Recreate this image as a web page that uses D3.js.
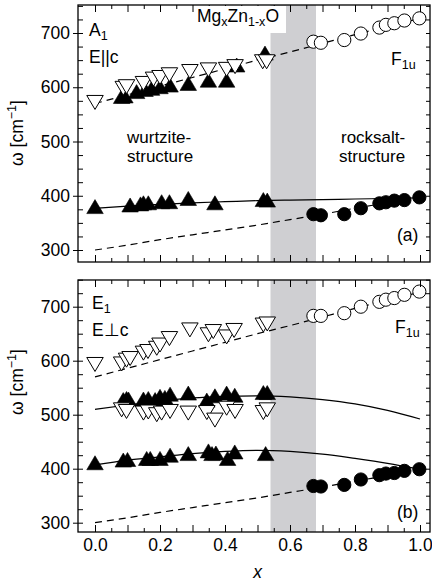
<!DOCTYPE html>
<html>
<head>
<meta charset="utf-8">
<script src="https://cdn.jsdelivr.net/npm/d3@7"></script>
<style>
  html, body { margin: 0; padding: 0; background: #fff; }
  svg { display: block; font-family: "Liberation Sans", Arial, sans-serif; }
</style>
</head>
<body>
<svg id="chart" width="432" height="584"></svg>
<script>
// ---- composition x values ----
const circX = [0.672, 0.695, 0.767, 0.818, 0.875, 0.895, 0.921, 0.952, 0.998];
const curveX = [0, 0.1, 0.2, 0.3, 0.4, 0.5, 0.6, 0.7, 0.8, 0.9, 1.0];
const bandRange = [0.54, 0.68];
const xTickLabels = ["0.0", "0.2", "0.4", "0.6", "0.8", "1.0"];
const yTickValues = [300, 400, 500, 600, 700];

// ---- panel (a): A1, E || c ----
const aOpenTriX = [0.0, 0.087, 0.097, 0.149, 0.18, 0.2, 0.229, 0.292, 0.349, 0.405, 0.431, 0.516, 0.528];
const aOpenTriV = [572, 598, 601, 607, 615, 618, 623, 629, 632, 633, 638, 647, 647];
const aHighTriX = [0.082, 0.092, 0.128, 0.154, 0.174, 0.2, 0.231, 0.287, 0.349, 0.405, 0.436, 0.523];
const aHighTriV = [583, 584, 592, 596, 598, 601, 604, 607, 613, 613, 641, 663];
const aLowTriX = [0.0, 0.108, 0.14, 0.149, 0.164, 0.205, 0.229, 0.287, 0.369, 0.518, 0.53];
const aLowTriV = [380, 383, 385, 387, 387, 389, 389, 395, 387, 393, 392];
const aOpenCircV = [684, 682, 687, 699, 710, 715, 718, 723, 727];
const aFilledCircV = [366, 364, 366, 377, 386, 388, 391, 392, 397];
const aSolid = [377, 381, 384, 387, 389, 391, 392, 393, 394, 395, 396];

// ---- panel (b): E1, E ⊥ c ----
const bOpenHighX = [0.0, 0.082, 0.097, 0.108, 0.149, 0.163, 0.19, 0.2, 0.229, 0.292, 0.349, 0.364, 0.405, 0.428, 0.518, 0.53];
const bOpenHighV = [593, 594, 601, 604, 614, 617, 623, 629, 641, 657, 648, 654, 644, 656, 666, 668];
const bMidTriX = [0.087, 0.097, 0.103, 0.149, 0.164, 0.185, 0.2, 0.215, 0.231, 0.287, 0.344, 0.369, 0.405, 0.43, 0.518, 0.53];
const bMidTriV = [528, 530, 529, 529, 530, 528, 534, 532, 538, 540, 527, 535, 540, 536, 541, 541];
const bOpenLowX = [0.082, 0.097, 0.149, 0.164, 0.19, 0.205, 0.231, 0.287, 0.344, 0.369, 0.405, 0.431, 0.518, 0.53];
const bOpenLowV = [509, 506, 503, 505, 500, 503, 506, 503, 504, 490, 512, 506, 504, 509];
const bLowTriX = [0.0, 0.087, 0.1, 0.159, 0.17, 0.2, 0.231, 0.287, 0.349, 0.36, 0.372, 0.408, 0.43, 0.525];
const bLowTriV = [411, 416, 417, 419, 419, 419, 425, 428, 433, 428, 429, 419, 431, 428];
const bOpenCircV = [683, 683, 688, 700, 709, 713, 716, 722, 728];
const bFilledCircV = [368, 367, 370, 380, 388, 391, 392, 396, 399];
const bSolidMid = [510, 518, 525, 531, 534, 535, 533, 528, 520, 508, 492];
const bSolidLow = [407, 416, 422, 428, 432, 434, 432, 427, 419, 410, 399];

// ---- shared model lines ----
const lowDashed = [300, 309, 319, 328, 337, 346, 356, 366, 377, 387, 398];
const upDashed = [570, 586, 602, 618, 634, 650, 665, 681, 697, 712, 727];

// ---- layout ----
const frameL = 78, frameR = 430;
const panels = [
  { top: 5,   bottom: 262, y700: 33,    y300: 250 },
  { top: 280, bottom: 532, y700: 306.7, y300: 522.7 }
];
const x = d3.scaleLinear().domain([0, 1]).range([95, 420]);

const svg = d3.select("#chart");
const FS = 17.5;
const SUB = 12.5;

function triPath(up, w, h) {
  return up
    ? `M0,${-h / 2}L${w / 2},${h / 2}L${-w / 2},${h / 2}Z`
    : `M0,${h / 2}L${w / 2},${-h / 2}L${-w / 2},${-h / 2}Z`;
}

function drawPanel(p, cfg) {
  const y = d3.scaleLinear().domain([300, 700]).range([p.y300, p.y700]);
  const g = svg.append("g");
  const clipId = "clip" + cfg.id;
  svg.append("clipPath").attr("id", clipId).append("rect")
    .attr("x", frameL).attr("y", p.top).attr("width", frameR - frameL).attr("height", p.bottom - p.top);

  // two-phase region
  g.append("rect")
    .attr("x", x(bandRange[0])).attr("y", p.top)
    .attr("width", x(bandRange[1]) - x(bandRange[0])).attr("height", p.bottom - p.top)
    .attr("fill", "#cfcfd2");

  const plot = g.append("g").attr("clip-path", `url(#${clipId})`);
  const line = d3.line().x((d, i) => x(curveX[i])).y(d => y(d)).curve(d3.curveMonotoneX);

  cfg.solid.forEach(s => plot.append("path").attr("d", line(s))
    .attr("fill", "none").attr("stroke", "#000").attr("stroke-width", 1.2));
  cfg.dashed.forEach(s => plot.append("path").attr("d", line(s))
    .attr("fill", "none").attr("stroke", "#000").attr("stroke-width", 1.2)
    .attr("stroke-dasharray", "7,5"));

  function tris(xs, vs, up, filled) {
    plot.append("g").selectAll("path").data(xs).join("path")
      .attr("transform", (d, i) => `translate(${x(d)},${y(vs[i])})`)
      .attr("d", triPath(up, 16.5, 14))
      .attr("fill", filled ? "#000" : "#fff")
      .attr("stroke", "#000").attr("stroke-width", filled ? 0.6 : 1);
  }
  function circs(vs, filled) {
    plot.append("g").selectAll("circle").data(circX).join("circle")
      .attr("cx", d => x(d)).attr("cy", (d, i) => y(vs[i])).attr("r", 6.6)
      .attr("fill", filled ? "#000" : "#fff")
      .attr("stroke", "#000").attr("stroke-width", 1);
  }
  cfg.filledTris.forEach(t => tris(t[0], t[1], true, true));
  cfg.openTris.forEach(t => tris(t[0], t[1], false, false));
  circs(cfg.openCirc, false);
  circs(cfg.filledCirc, true);

  // axes: minor ticks inside, majors outside with labels
  const left = g.append("g").attr("transform", `translate(${frameL},0)`);
  left.call(d3.axisLeft(y).tickValues(d3.range(300, 751, 25)).tickSize(-5).tickFormat(""));
  const leftMaj = g.append("g").attr("transform", `translate(${frameL},0)`);
  leftMaj.call(d3.axisLeft(y).tickValues(yTickValues).tickSize(5).tickPadding(3).tickFormat(d3.format("d")));
  const right = g.append("g").attr("transform", `translate(${frameR},0)`);
  right.call(d3.axisRight(y).tickValues(d3.range(300, 751, 25)).tickSize(-4).tickFormat(""));

  const xMinor = d3.range(0, 1.0001, 0.05).filter(v => Math.round(v * 100) % 10 !== 0);
  const xMajor = d3.range(0, 1.0001, 0.1);
  const bot = g.append("g").attr("transform", `translate(0,${p.bottom})`);
  bot.call(d3.axisBottom(x).tickValues(xMajor).tickSize(-7).tickFormat(""));
  const botMin = g.append("g").attr("transform", `translate(0,${p.bottom})`);
  botMin.call(d3.axisBottom(x).tickValues(xMinor).tickSize(-4).tickFormat(""));
  const top = g.append("g").attr("transform", `translate(0,${p.top})`);
  top.call(d3.axisTop(x).tickValues(xMajor).tickSize(-7).tickFormat(""));
  const topMin = g.append("g").attr("transform", `translate(0,${p.top})`);
  topMin.call(d3.axisTop(x).tickValues(xMinor).tickSize(-4).tickFormat(""));

  g.selectAll(".domain").remove();
  g.selectAll(".tick line").attr("stroke", "#000").attr("stroke-width", 1);
  g.selectAll(".tick text").attr("font-size", FS).attr("fill", "#000")
    .attr("font-family", "Liberation Sans, Arial, sans-serif");

  if (cfg.xLabels) {
    const xl = g.append("g").attr("transform", `translate(0,${p.bottom})`);
    xl.call(d3.axisBottom(x).tickValues(d3.range(0, 1.0001, 0.2)).tickSize(0).tickPadding(7)
      .tickFormat((d, i) => xTickLabels[i]));
    xl.select(".domain").remove();
    xl.selectAll("text").attr("font-size", FS).attr("fill", "#000")
      .attr("font-family", "Liberation Sans, Arial, sans-serif");
  }

  // frame
  g.append("rect").attr("x", frameL).attr("y", p.top)
    .attr("width", frameR - frameL).attr("height", p.bottom - p.top)
    .attr("fill", "none").attr("stroke", "#000").attr("stroke-width", 1.3);

  // y title
  const yt = g.append("text")
    .attr("transform", `translate(23,${cfg.yTitleY}) rotate(-90)`)
    .attr("text-anchor", "middle").attr("font-size", FS);
  yt.append("tspan").text("ω [cm");
  yt.append("tspan").attr("dy", -7).attr("font-size", SUB).text("−1");
  yt.append("tspan").attr("dy", 7).text("]");

  return g;
}

function subText(g, px, py, parts) {
  const t = g.append("text").attr("x", px).attr("y", py).attr("font-size", FS);
  let shift = 0;
  parts.forEach(([s, sub]) => {
    const dy = sub ? 4 - shift : -shift;
    shift = sub ? 4 : 0;
    t.append("tspan").attr("dy", dy).attr("font-size", sub ? SUB : FS).text(s);
  });
  return t;
}

// two-line structure label
const LBL = 17;
function twoLines(g, px, py, l1, l2, px2) {
  g.append("text").attr("x", px).attr("y", py).attr("font-size", LBL).text(l1);
  g.append("text").attr("x", px2 === undefined ? px : px2).attr("y", py + 19.2)
    .attr("font-size", LBL).text(l2);
}

const gA = drawPanel(panels[0], {
  id: "a",
  solid: [aSolid],
  dashed: [lowDashed, upDashed],
  filledTris: [[aHighTriX, aHighTriV], [aLowTriX, aLowTriV]],
  openTris: [[aOpenTriX, aOpenTriV]],
  openCirc: aOpenCircV,
  filledCirc: aFilledCircV,
  yTitleY: 133,
  xLabels: false
});

const gB = drawPanel(panels[1], {
  id: "b",
  solid: [bSolidMid, bSolidLow],
  dashed: [lowDashed, upDashed],
  filledTris: [[bMidTriX, bMidTriV], [bLowTriX, bLowTriV]],
  openTris: [[bOpenHighX, bOpenHighV], [bOpenLowX, bOpenLowV]],
  openCirc: bOpenCircV,
  filledCirc: bFilledCircV,
  yTitleY: 382,
  xLabels: true
});

// panel (a) annotations
gA.append("rect").attr("x", 195).attr("y", 6).attr("width", 91).attr("height", 27).attr("fill", "#fff");
subText(gA, 197, 22, [["Mg"], ["x", 1], ["Zn"], ["1-x", 1], ["O"]]);
subText(gA, 89, 36, [["A"], ["1", 1]]);
gA.append("text").attr("x", 89).attr("y", 63).attr("font-size", FS).text("E||c");
subText(gA, 391, 65, [["F"], ["1u", 1]]);
twoLines(gA, 127, 142.5, "wurtzite-", "structure");
twoLines(gA, 341, 142.5, "rocksalt-", "structure", 339);
gA.append("text").attr("x", 397).attr("y", 241).attr("font-size", FS).text("(a)");

// panel (b) annotations
subText(gB, 92, 309, [["E"], ["1", 1]]);
gB.append("text").attr("x", 92).attr("y", 336).attr("font-size", FS).text("E⊥c");
subText(gB, 395, 333, [["F"], ["1u", 1]]);
gB.append("text").attr("x", 397).attr("y", 518).attr("font-size", FS).text("(b)");

// x title
svg.append("text").attr("x", x(0.5)).attr("y", 578).attr("text-anchor", "middle")
  .attr("font-size", FS).attr("font-style", "italic").text("x");
</script>
</body>
</html>
